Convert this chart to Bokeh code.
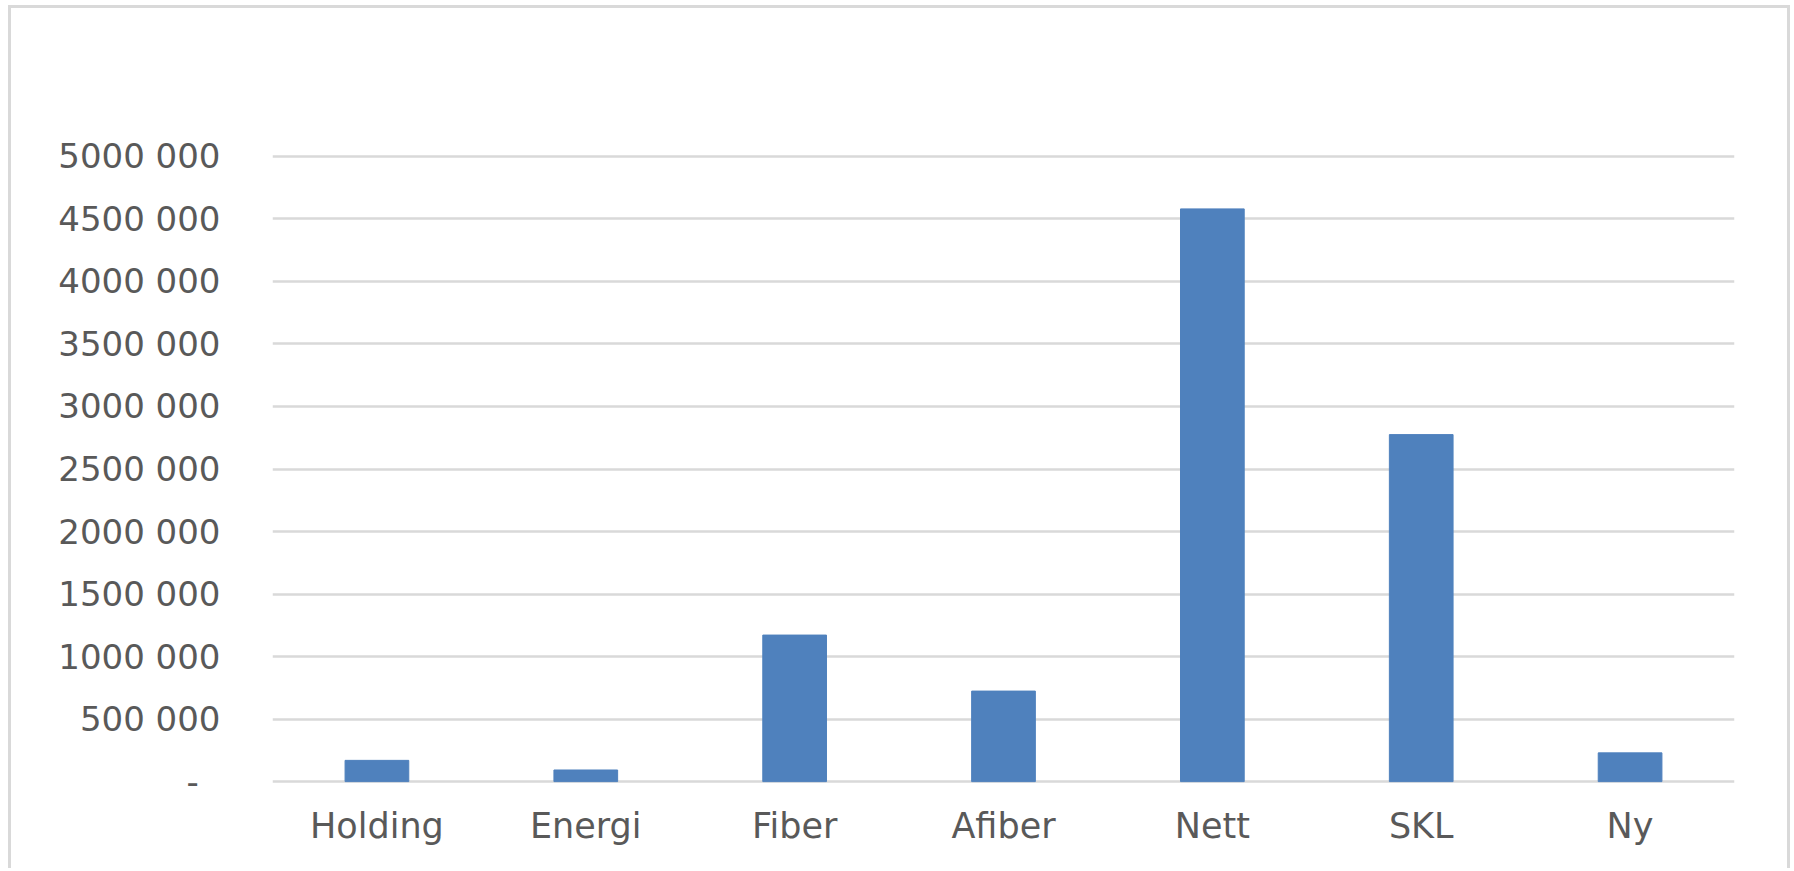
from bokeh.plotting import figure
from bokeh.models import Range1d, FactorRange, ColumnDataSource, FixedTicker
from bokeh.embed import file_html
from bokeh.resources import INLINE

# ---- data ----
categories = ["Holding", "Energi", "Fiber", "Afiber", "Nett", "SKL", "Ny"]
values = [170000, 93000, 1172000, 724000, 4580000, 2775000, 230000]

y_ticks = [0, 500000, 1000000, 1500000, 2000000, 2500000,
           3000000, 3500000, 4000000, 4500000, 5000000]
y_tick_labels = ["-\u00a0\u00a0", "500 000", "1000 000", "1500 000", "2000 000",
                 "2500 000", "3000 000", "3500 000", "4000 000", "4500 000",
                 "5000 000"]

BAR_COLOR = "#4f81bd"
GRID_COLOR = "#d9d9d9"
TEXT_COLOR = "#595959"
FONT = "DejaVu Sans"

src = ColumnDataSource(data=dict(cat=categories, val=values))

pad = 15000  # tiny range padding so the edge gridlines are not clipped
p = figure(
    x_range=FactorRange(*categories),
    y_range=Range1d(-pad, 5000000 + pad),
    width=1782, height=863,
    output_backend="svg", toolbar_location=None,
    min_border_left=261, min_border_right=59,
    min_border_top=146, min_border_bottom=88,
)
p.styles = {
    "margin-left": "8px",
    "margin-top": "5px",
    "border-top": "3px solid #d9d9d9",
    "border-left": "3px solid #d9d9d9",
    "border-right": "3px solid #d9d9d9",
}

p.vbar(x="cat", top="val", bottom=0, width=0.305, source=src,
       fill_color=BAR_COLOR, line_color=BAR_COLOR)

p.outline_line_color = None
p.background_fill_color = "white"
p.border_fill_color = "white"

p.xgrid.grid_line_color = None
p.ygrid.grid_line_color = GRID_COLOR
p.ygrid.grid_line_width = 2.5

p.yaxis.ticker = FixedTicker(ticks=y_ticks)
p.yaxis.major_label_overrides = dict(zip(y_ticks, y_tick_labels))
p.yaxis.axis_line_color = None
p.yaxis.major_tick_line_color = None
p.yaxis.minor_tick_line_color = None
p.yaxis.major_tick_out = 0
p.yaxis.major_tick_in = 0
p.yaxis.major_label_standoff = 52
p.yaxis.major_label_text_font = FONT
p.yaxis.major_label_text_font_size = "34px"
p.yaxis.major_label_text_color = TEXT_COLOR

p.xaxis.axis_line_color = None
p.xaxis.major_tick_line_color = None
p.xaxis.major_tick_out = 0
p.xaxis.major_tick_in = 0
p.xaxis.major_label_standoff = 22
p.xaxis.major_label_text_font = FONT
p.xaxis.major_label_text_font_size = "35px"
p.xaxis.major_label_text_color = TEXT_COLOR

with open("out.html", "w") as f:
    f.write(file_html(p, INLINE))
